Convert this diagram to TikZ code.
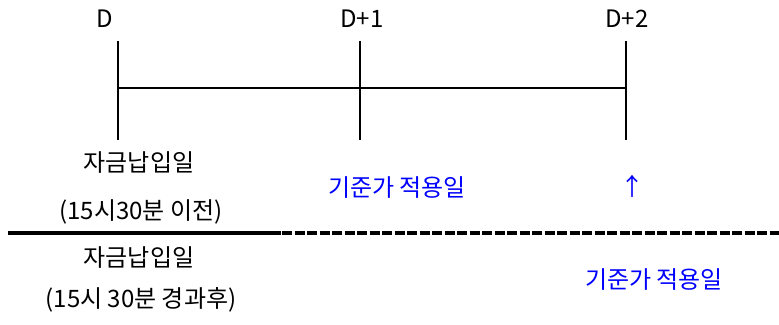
\documentclass[tikz,border=0pt]{standalone}
\usepackage{fontspec}
\setmainfont{Noto Sans CJK KR}
\begin{document}
\begin{tikzpicture} [x = 1pt, y = 1pt, font = \fontsize{24}{28}\selectfont]
	\tikzset{tick/.style = {line width = 2.6pt}, blue text/.style = {text = blue}}
	\useasboundingbox (0,0) rectangle (779,324);
	% timeline
	\coordinate (d0) at (118,236);
	\coordinate (d1) at (360,236);
	\coordinate (d2) at (626,236);
	\draw [tick] (118,283) -- (118,184);
	\draw [tick] (360,283) -- (360,184);
	\draw [tick] (626,283) -- (626,184);
	\draw [tick] (d0) -- (d1) -- (d2);
	\node (dayA) at (105,305) {D};
	\node (dayB) at (362,305) {D+1};
	\node (dayC) at (627,305) {D+2};
	% before 15:30
	\node (payA) at (139,161) {자금납입일};
	\node (timeA) at (141,112) {(15시30분 이전)};
	\node [blue text] (navA) at (397,136) {기준가 적용일};
	\node [blue text] (up) at (632,138) {↑};
	% separator
	\draw [line width = 4pt] (8,91) -- (281,91);
	\draw [line width = 4pt, dash pattern = on 10pt off 2.5pt] (282,91) -- (779,91);
	% after 15:30
	\node (payB) at (139,66) {자금납입일};
	\node (timeB) at (141,24) {(15시 30분 경과후)};
	\node [blue text] (navB) at (654,44) {기준가 적용일};
\end{tikzpicture}
\end{document}
